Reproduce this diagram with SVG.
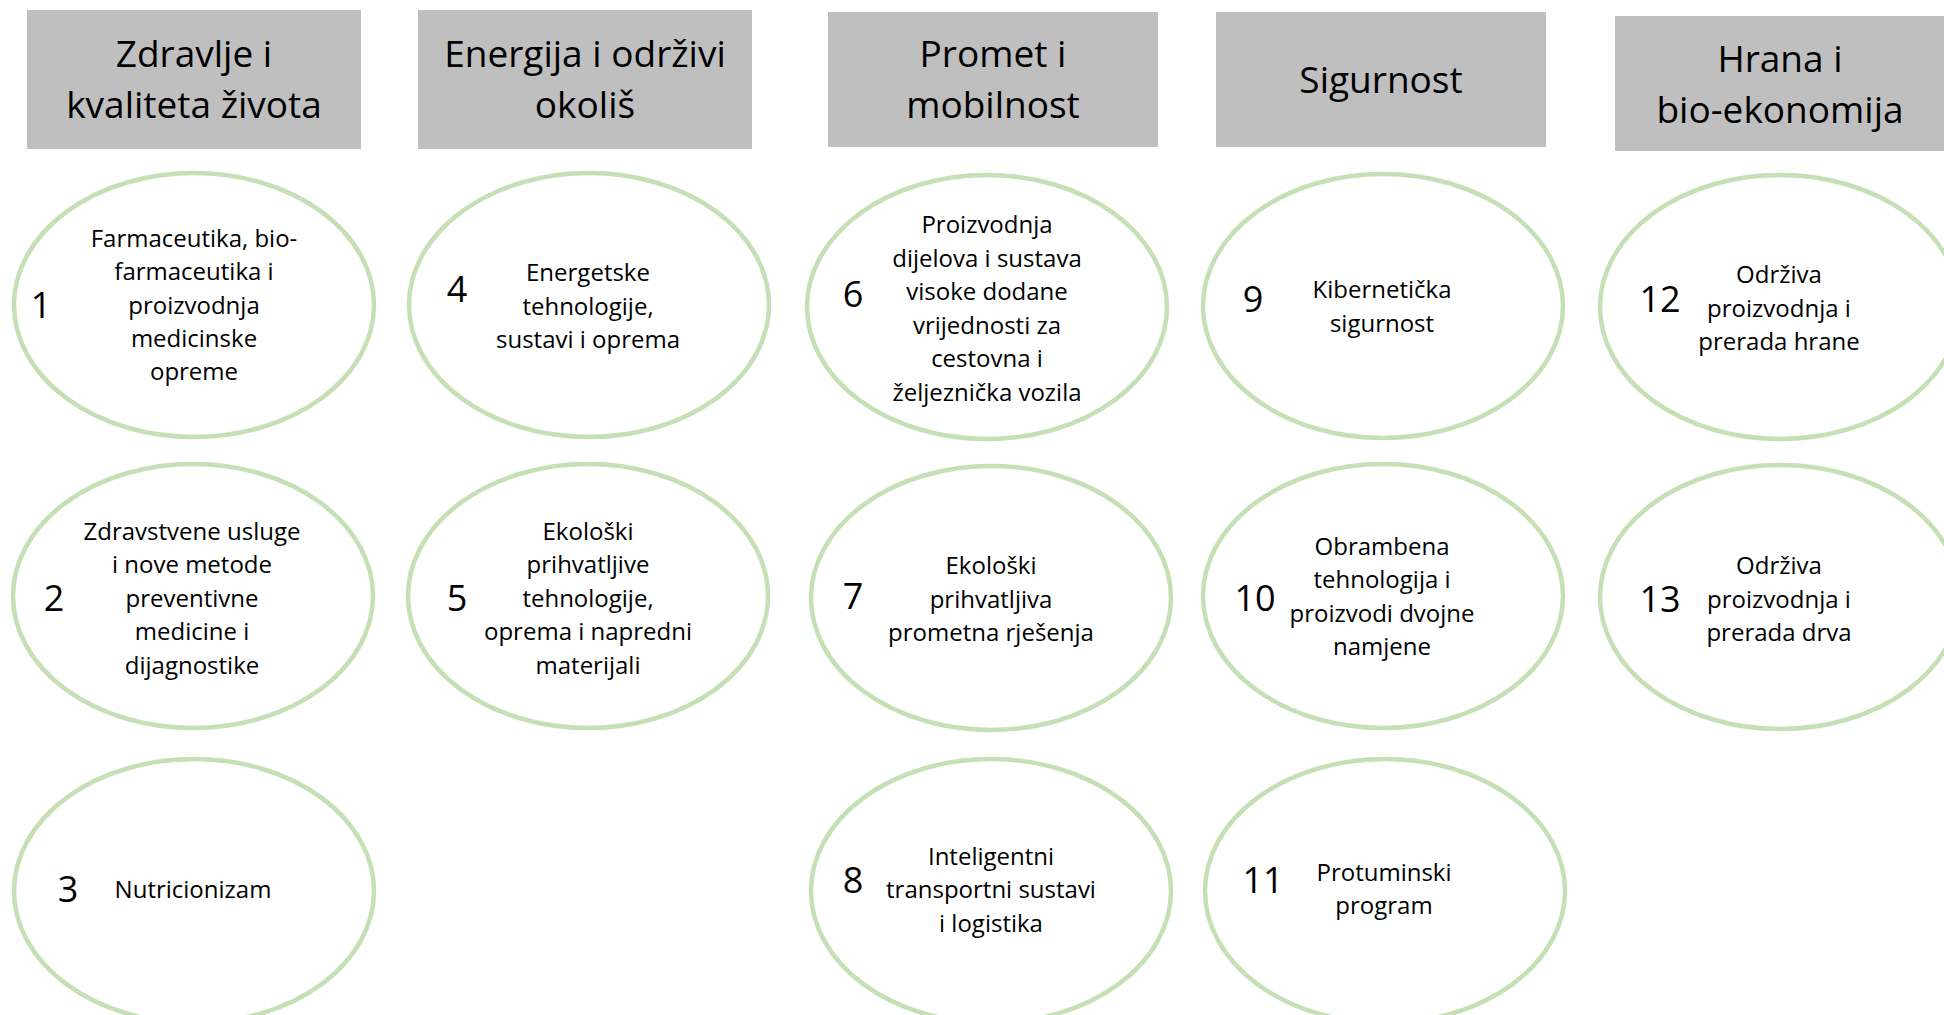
<svg xmlns="http://www.w3.org/2000/svg" width="1944" height="1015" viewBox="0 0 1944 1015">
<style>
.hdr{fill:#BFBFBF}
.ht{font-family:"Open Sans","Noto Sans",sans-serif;font-size:37px;fill:#000;text-anchor:middle}
.ell{fill:#fff;stroke:#C5E0B4;stroke-width:4.5}
.num{font-family:"Open Sans","Noto Sans",sans-serif;font-size:36px;fill:#000;text-anchor:middle}
.bt{font-family:"Open Sans","Noto Sans",sans-serif;font-size:24px;fill:#000;text-anchor:middle}
</style>
<rect width="1944" height="1015" fill="#fff"/>
<g id="headers">
<g id="h1"><rect class="hdr" x="27" y="10" width="334" height="139"/><text class="ht"><tspan x="194" y="67">Zdravlje i</tspan><tspan x="194" y="118">kvaliteta života</tspan></text></g>
<g id="h2"><rect class="hdr" x="418" y="10" width="334" height="139"/><text class="ht"><tspan x="585" y="67">Energija i održivi</tspan><tspan x="585" y="118">okoliš</tspan></text></g>
<g id="h3"><rect class="hdr" x="828" y="12" width="330" height="135"/><text class="ht"><tspan x="993" y="67">Promet i</tspan><tspan x="993" y="118">mobilnost</tspan></text></g>
<g id="h4"><rect class="hdr" x="1216" y="12" width="330" height="135"/><text class="ht" x="1381" y="93">Sigurnost</text></g>
<g id="h5"><rect class="hdr" x="1615" y="16" width="330" height="135"/><text class="ht"><tspan x="1780" y="72">Hrana i</tspan><tspan x="1780" y="123">bio-ekonomija</tspan></text></g>
</g>
<g id="connectors"></g>
<g id="n1"><ellipse class="ell" cx="194" cy="305" rx="180" ry="132"/><text class="num" x="41" y="318">1</text><text class="bt"><tspan x="194" y="247">Farmaceutika, bio-</tspan><tspan x="194" y="280">farmaceutika i</tspan><tspan x="194" y="313.5">proizvodnja</tspan><tspan x="194" y="347">medicinske</tspan><tspan x="194" y="380">opreme</tspan></text></g>
<g id="n2"><ellipse class="ell" cx="193" cy="596" rx="180" ry="132"/><text class="num" x="54" y="611">2</text><text class="bt"><tspan x="192" y="539.5">Zdravstvene usluge</tspan><tspan x="192" y="573">i nove metode</tspan><tspan x="192" y="606.5">preventivne</tspan><tspan x="192" y="640">medicine i</tspan><tspan x="192" y="673.5">dijagnostike</tspan></text></g>
<g id="n3"><ellipse class="ell" cx="194" cy="891" rx="180" ry="132"/><text class="num" x="68" y="902">3</text><text class="bt" x="193" y="898">Nutricionizam</text></g>
<g id="n4"><ellipse class="ell" cx="589" cy="305" rx="180" ry="132"/><text class="num" x="457" y="302">4</text><text class="bt"><tspan x="588" y="281">Energetske</tspan><tspan x="588" y="314.5">tehnologije,</tspan><tspan x="588" y="348">sustavi i oprema</tspan></text></g>
<g id="n5"><ellipse class="ell" cx="588" cy="596" rx="180" ry="132"/><text class="num" x="457" y="611">5</text><text class="bt"><tspan x="588" y="539.5">Ekološki</tspan><tspan x="588" y="573">prihvatljive</tspan><tspan x="588" y="606.5">tehnologije,</tspan><tspan x="588" y="640">oprema i napredni</tspan><tspan x="588" y="673.5">materijali</tspan></text></g>
<g id="n6"><ellipse class="ell" cx="987" cy="307" rx="180" ry="132"/><text class="num" x="853" y="307">6</text><text class="bt"><tspan x="987" y="233">Proizvodnja</tspan><tspan x="987" y="266.5">dijelova i sustava</tspan><tspan x="987" y="300">visoke dodane</tspan><tspan x="987" y="333.5">vrijednosti za</tspan><tspan x="987" y="367">cestovna i</tspan><tspan x="987" y="400.5">željeznička vozila</tspan></text></g>
<g id="n7"><ellipse class="ell" cx="991" cy="598" rx="180" ry="132"/><text class="num" x="853" y="609">7</text><text class="bt"><tspan x="991" y="574">Ekološki</tspan><tspan x="991" y="607.5">prihvatljiva</tspan><tspan x="991" y="641">prometna rješenja</tspan></text></g>
<g id="n8"><ellipse class="ell" cx="991" cy="891" rx="180" ry="132"/><text class="num" x="853" y="893">8</text><text class="bt"><tspan x="991" y="864.5">Inteligentni</tspan><tspan x="991" y="898">transportni sustavi</tspan><tspan x="991" y="931.5">i logistika</tspan></text></g>
<g id="n9"><ellipse class="ell" cx="1383" cy="306" rx="180" ry="132"/><text class="num" x="1253" y="312">9</text><text class="bt"><tspan x="1382" y="298">Kibernetička</tspan><tspan x="1382" y="331.5">sigurnost</tspan></text></g>
<g id="n10"><ellipse class="ell" cx="1383" cy="596" rx="180" ry="132"/><text class="num" x="1255" y="611">10</text><text class="bt"><tspan x="1382" y="554.5">Obrambena</tspan><tspan x="1382" y="588">tehnologija i</tspan><tspan x="1382" y="621.5">proizvodi dvojne</tspan><tspan x="1382" y="655">namjene</tspan></text></g>
<g id="n11"><ellipse class="ell" cx="1385" cy="891" rx="180" ry="132"/><text class="num" x="1263" y="893">11</text><text class="bt"><tspan x="1384" y="880.5">Protuminski</tspan><tspan x="1384" y="914">program</tspan></text></g>
<g id="n12"><ellipse class="ell" cx="1780" cy="307" rx="180" ry="132"/><text class="num" x="1660" y="312">12</text><text class="bt"><tspan x="1779" y="283">Održiva</tspan><tspan x="1779" y="316.5">proizvodnja i</tspan><tspan x="1779" y="350">prerada hrane</tspan></text></g>
<g id="n13"><ellipse class="ell" cx="1780" cy="597" rx="180" ry="132"/><text class="num" x="1660" y="612">13</text><text class="bt"><tspan x="1779" y="574">Održiva</tspan><tspan x="1779" y="607.5">proizvodnja i</tspan><tspan x="1779" y="641">prerada drva</tspan></text></g>
</svg>
